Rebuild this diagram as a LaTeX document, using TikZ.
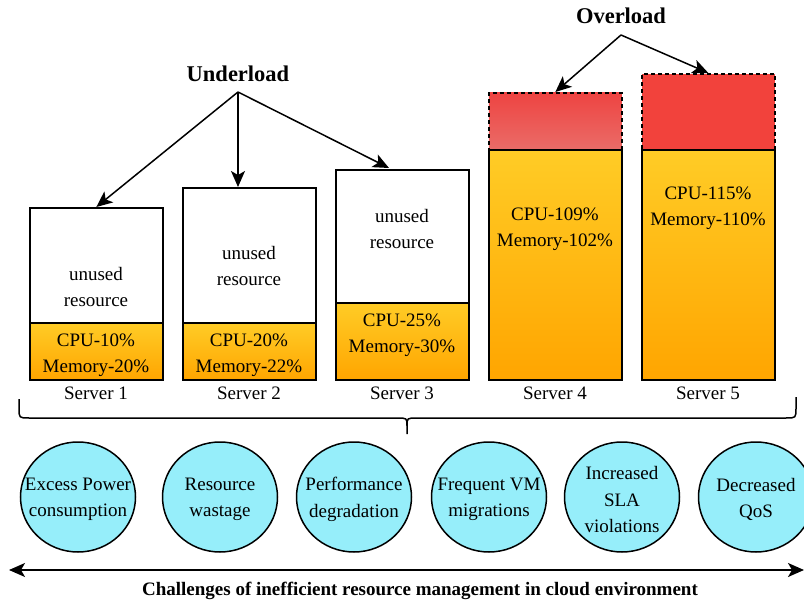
\documentclass[tikz,border=0pt]{standalone}
\usepackage{fontspec}
\setmainfont{Liberation Serif}
\usetikzlibrary{arrows.meta,shapes.geometric}
\definecolor{orgtop}{RGB}{255,204,38}
\definecolor{orgbot}{RGB}{255,165,0}
\definecolor{redfull}{RGB}{242,66,60}
\definecolor{redtop}{RGB}{238,68,66}
\definecolor{redbot}{RGB}{234,108,104}
\definecolor{cyanc}{RGB}{150,238,250}
\tikzset{
  box/.style={draw=black,line width=1.7pt,anchor=north west,inner sep=0pt,minimum width=133pt},
  used/.style={box,top color=orgtop,bottom color=orgbot},
  over/.style={box,dash pattern=on 4pt off 3pt},
  txt/.style={font=\fontsize{19}{26.5}\selectfont,align=center,inner sep=0pt},
  lbl/.style={font=\fontsize{22.5}{26}\selectfont\bfseries,inner sep=0pt},
  chal/.style={ellipse,draw=black,line width=1.5pt,fill=cyanc,minimum width=115pt,minimum height=110pt,inner sep=0pt},
  arr/.style={line width=1.5pt,-{Stealth[length=16pt,width=14pt,inset=4pt]}},
}
\begin{document}
\begin{tikzpicture}[x=1pt,y=-1pt]
\useasboundingbox (0,0) rectangle (804,604);
% Server 1
\node[box,minimum height=115pt] (s1w) at (29,207) {};
\node[used,minimum height=57pt] (s1u) at (29,322) {};
\node[txt] (t1w) at (96,287) {unused\\resource};
\node[txt] (t1u) at (96,355) {CPU-10\%\\Memory-20\%};
% Server 2
\node[box,minimum height=135pt] (s2w) at (182,187) {};
\node[used,minimum height=57pt] (s2u) at (182,322) {};
\node[txt] (t2w) at (249,266) {unused\\resource};
\node[txt] (t2u) at (249,355) {CPU-20\%\\Memory-22\%};
% Server 3
\node[box,minimum height=133pt] (s3w) at (335,169) {};
\node[used,minimum height=77pt] (s3u) at (335,302) {};
\node[txt] (t3w) at (402,229) {unused\\resource};
\node[txt] (t3u) at (402,335) {CPU-25\%\\Memory-30\%};
% Server 4
\node[over,top color=redtop,bottom color=redbot,minimum height=57pt] (s4r) at (488,92) {};
\node[used,minimum height=230pt] (s4u) at (488,149) {};
\node[txt] (t4u) at (555,229) {CPU-109\%\\Memory-102\%};
% Server 5
\node[over,fill=redfull,minimum height=76pt] (s5r) at (641,73) {};
\node[used,minimum height=230pt] (s5u) at (641,149) {};
\node[txt] (t5u) at (708,208) {CPU-115\%\\Memory-110\%};
% server labels
\node[txt] (n1) at (96,393) {Server 1};
\node[txt] (n2) at (249,393) {Server 2};
\node[txt] (n3) at (402,393) {Server 3};
\node[txt] (n4) at (555,393) {Server 4};
\node[txt] (n5) at (708,393) {Server 5};
% underload
\node[lbl] (ul) at (238,74) {Underload};
\coordinate (u0) at (238,92);
\coordinate (a2) at (238,187);
\coordinate (a3) at (389,168);
\draw[arr] (u0) -- (s1w.north);
\draw[arr] (u0) -- (a2);
\draw[arr] (u0) -- (a3);
% overload
\node[lbl] (ol) at (621,16) {Overload};
\coordinate (o0) at (621,35);
\draw[arr] (o0) -- (s4r.north);
\draw[arr] (o0) -- (s5r.north);
% brace
\draw[line width=1.5pt] (19,399) -- (19,408) .. controls (19,418) .. (29,418) -- (397,418) .. controls (407,418) .. (407,426) -- (407,434)
  (407,426) .. controls (407,418) .. (417,418) -- (786,418) .. controls (796,418) .. (796,408) -- (796,397);
% challenges
\node[chal] (c1) at (78,497) {};
\node[chal] (c2) at (220,497) {};
\node[chal] (c3) at (354,497) {};
\node[chal] (c4) at (489,497) {};
\node[chal] (c5) at (622,497) {};
\node[chal] (c6) at (756,497) {};
\node[txt] (d1) at ([yshift=-2.5pt]c1.center) {Excess Power\\consumption};
\node[txt] (d2) at ([yshift=-2.5pt]c2.center) {Resource\\wastage};
\node[txt] (d3) at ([yshift=-2.5pt]c3.center) {Performance\\degradation};
\node[txt] (d4) at ([yshift=-2.5pt]c4.center) {Frequent VM\\migrations};
\node[txt] (d5) at ([yshift=-2.5pt]c5.center) {Increased\\SLA\\violations};
\node[txt] (d6) at ([yshift=-2.5pt]c6.center) {Decreased\\QoS};
% bottom arrow
\coordinate (bl) at (9,570);
\coordinate (br) at (804,570);
\draw[line width=1.5pt,{Stealth[length=16pt,width=14pt,inset=4pt]}-{Stealth[length=16pt,width=14pt,inset=4pt]}] (bl) -- (br);
\node[font=\fontsize{19}{22}\selectfont\bfseries,inner sep=0pt] (cap) at (420,591) {Challenges of inefficient resource management in cloud environment};
\end{tikzpicture}
\end{document}
